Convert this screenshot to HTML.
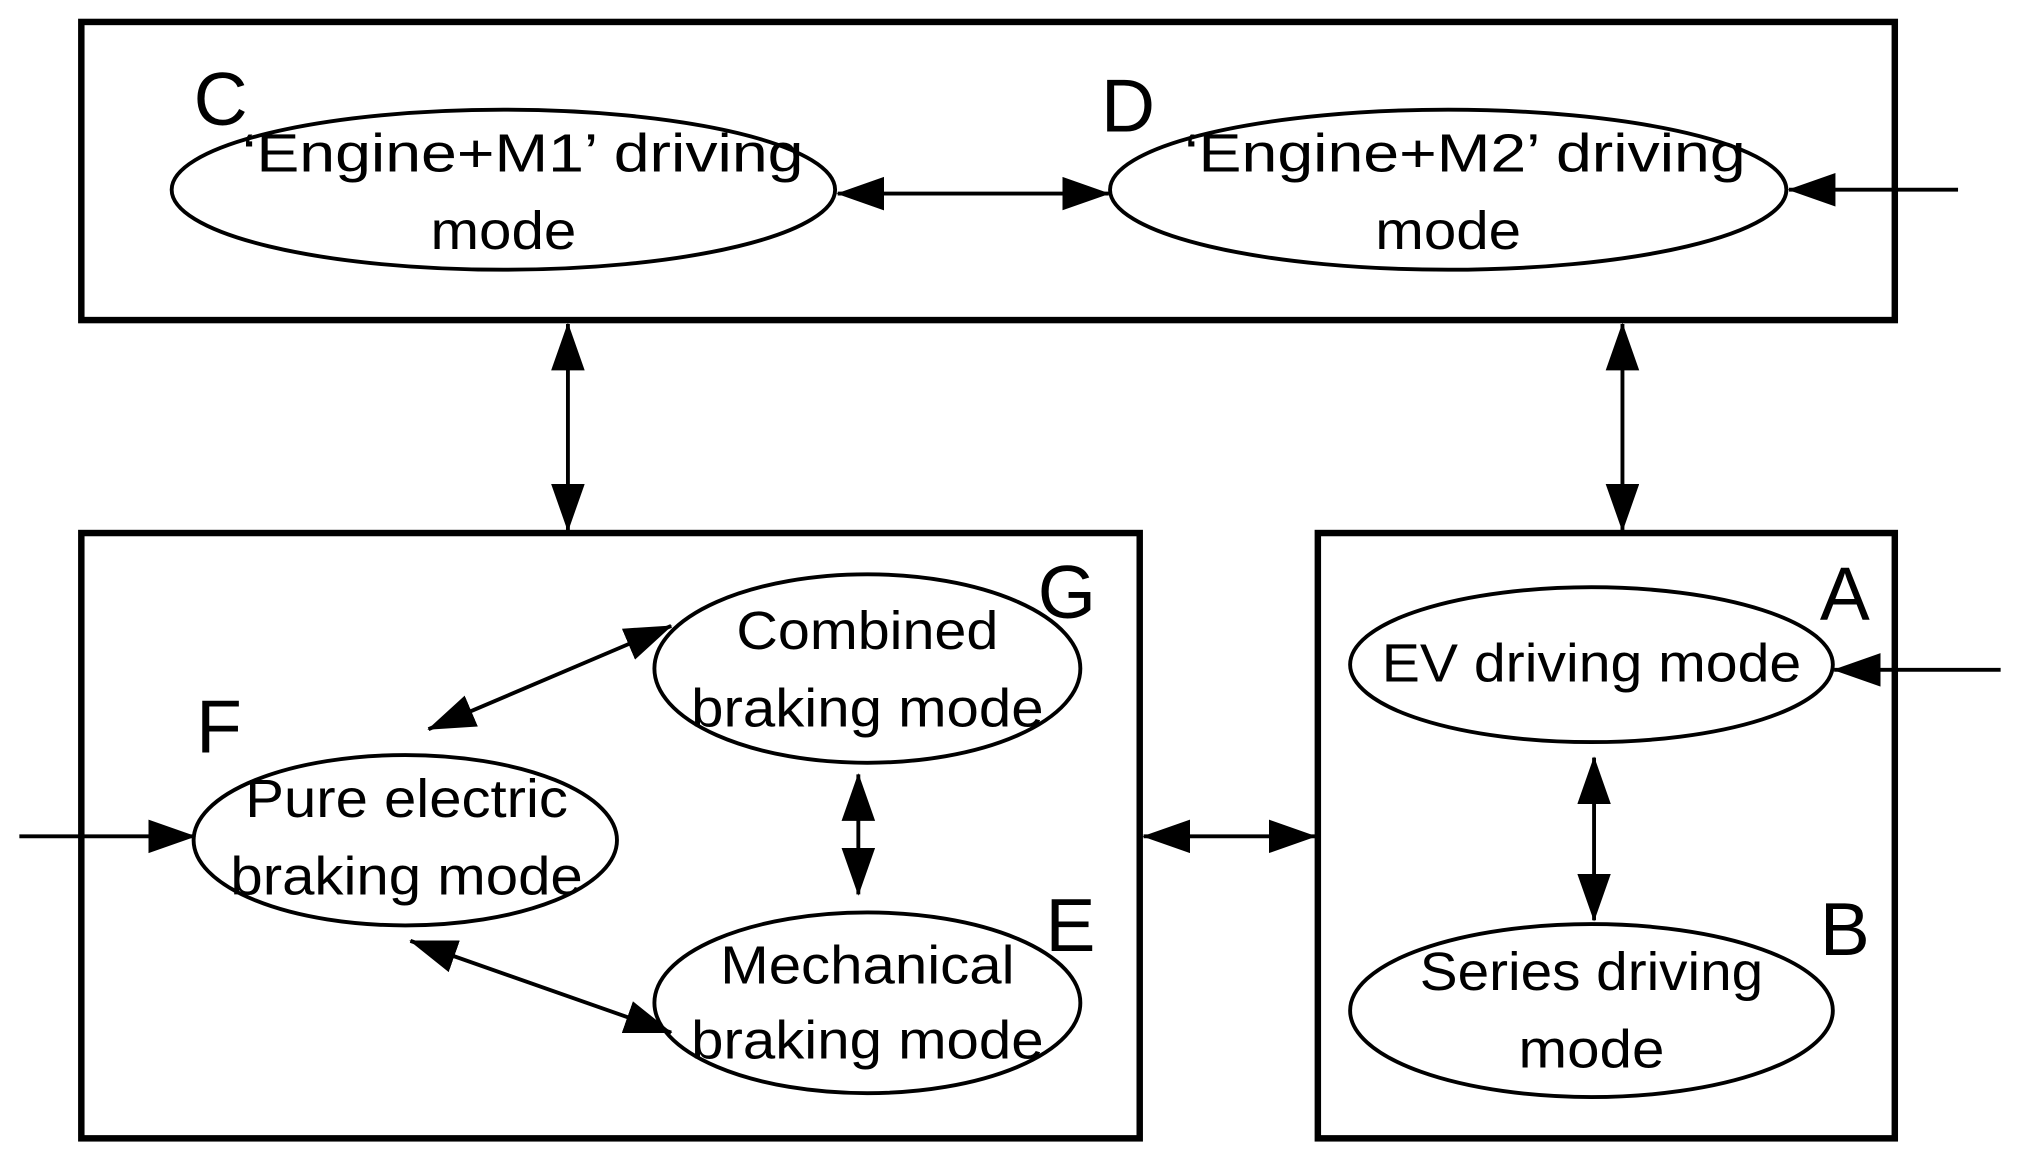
<!DOCTYPE html>
<html><head><meta charset="utf-8"><style>
html,body{margin:0;padding:0;background:#fff;}
svg{display:block;}
text{font-family:"Liberation Sans",sans-serif;fill:#000;}
</style></head><body>
<svg width="2020" height="1159" viewBox="0 0 1565 898" preserveAspectRatio="none" xmlns="http://www.w3.org/2000/svg">
<defs>
<marker id="ah" markerUnits="userSpaceOnUse" markerWidth="38" markerHeight="28" refX="36" refY="13" orient="auto-start-reverse">
<path d="M0,0 L37,13 L0,26 Z" fill="#000"/>
</marker>
</defs>
<g fill="none" stroke="#000">
<rect x="63" y="17" width="1405" height="231" stroke-width="5"/>
<rect x="63" y="413" width="820" height="469" stroke-width="5"/>
<rect x="1021" y="413" width="447" height="469" stroke-width="5"/>
<g stroke-width="3">
<ellipse cx="390" cy="147" rx="257" ry="62"/>
<ellipse cx="1122" cy="147" rx="262" ry="62"/>
<ellipse cx="1233" cy="515" rx="187" ry="60"/>
<ellipse cx="1233" cy="783" rx="187" ry="67"/>
<ellipse cx="314" cy="651" rx="164" ry="66"/>
<ellipse cx="672" cy="518" rx="165" ry="73"/>
<ellipse cx="672" cy="777" rx="165" ry="70"/>
</g>
<g stroke-width="3" marker-start="url(#ah)" marker-end="url(#ah)">
<line x1="649" y1="150" x2="859" y2="150"/>
<line x1="440" y1="251" x2="440" y2="411"/>
<line x1="1257" y1="251" x2="1257" y2="411"/>
<line x1="886" y1="648" x2="1019" y2="648"/>
<line x1="1235" y1="587" x2="1235" y2="713"/>
<line x1="665" y1="600" x2="665" y2="693"/>
<line x1="332" y1="565" x2="520" y2="485"/>
<line x1="318" y1="729" x2="520" y2="800"/>
</g>
<g stroke-width="3" marker-end="url(#ah)">
<line x1="1517" y1="147" x2="1386" y2="147"/>
<line x1="1550" y1="519" x2="1421" y2="519"/>
<line x1="15" y1="648" x2="151" y2="648"/>
</g>
</g>
<g font-size="42" text-anchor="middle">
<text x="405" y="133" textLength="435" lengthAdjust="spacingAndGlyphs">‘Engine+M1’ driving</text>
<text x="390" y="193" textLength="113" lengthAdjust="spacingAndGlyphs">mode</text>
<text x="1135" y="133" textLength="435" lengthAdjust="spacingAndGlyphs">‘Engine+M2’ driving</text>
<text x="1122" y="193" textLength="113" lengthAdjust="spacingAndGlyphs">mode</text>
<text x="1233" y="528" textLength="325" lengthAdjust="spacingAndGlyphs">EV driving mode</text>
<text x="1233" y="767" textLength="266" lengthAdjust="spacingAndGlyphs">Series driving</text>
<text x="1233" y="827" textLength="113" lengthAdjust="spacingAndGlyphs">mode</text>
<text x="315" y="633" textLength="250" lengthAdjust="spacingAndGlyphs">Pure electric</text>
<text x="315" y="693" textLength="273" lengthAdjust="spacingAndGlyphs">braking mode</text>
<text x="672" y="503" textLength="203" lengthAdjust="spacingAndGlyphs">Combined</text>
<text x="672" y="563" textLength="273" lengthAdjust="spacingAndGlyphs">braking mode</text>
<text x="672" y="762" textLength="228" lengthAdjust="spacingAndGlyphs">Mechanical</text>
<text x="672" y="820" textLength="273" lengthAdjust="spacingAndGlyphs">braking mode</text>
</g>
<g font-size="58">
<text x="150" y="97">C</text>
<text x="853" y="102">D</text>
<text x="1410" y="480">A</text>
<text x="1410" y="740">B</text>
<text x="152" y="583">F</text>
<text x="804" y="479">G</text>
<text x="810" y="737">E</text>
</g>
</svg>
</body></html>
